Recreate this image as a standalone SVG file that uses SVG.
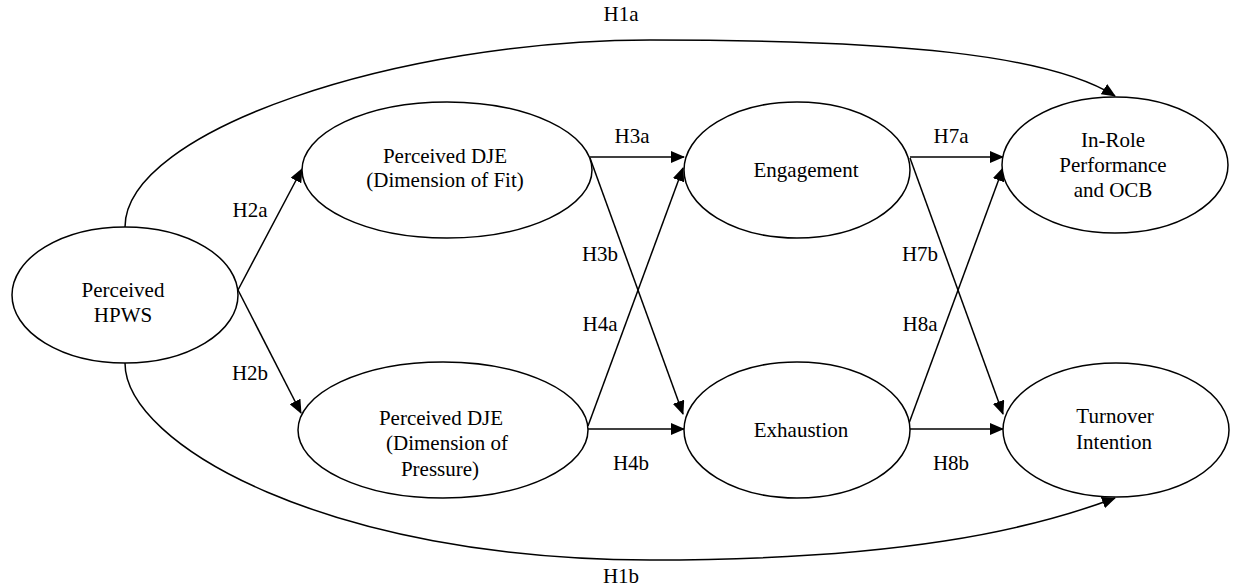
<svg xmlns="http://www.w3.org/2000/svg" width="1238" height="587" viewBox="0 0 1238 587">
<style>
  .node ellipse { fill: #ffffff; stroke: #000000; stroke-width: 1.5; }
  text { font-family: 'Liberation Serif', 'DejaVu Serif', serif; font-size: 21px; fill: #000000; text-anchor: middle; }
  .conn path, .conn line { fill: none; stroke: #000000; stroke-width: 1.5; marker-end: url(#arrow); }
</style>
<defs>
  <marker id="arrow" markerUnits="userSpaceOnUse" markerWidth="14" markerHeight="12" viewBox="0 0 14 12" refX="13" refY="6" orient="auto">
    <path d="M0,0 L14,6 L0,12 Z" fill="#000000"/>
  </marker>
</defs>
<rect width="1238" height="587" fill="#ffffff"/>
<g class="conn" id="connectors">
  <path d="M125,227 C125,130 400,40 650,40 C900,40 1050,55 1115,96"/>
  <path d="M125,363 C125,445 330,560 650,560 C900,560 1030,530 1115,498"/>
  <line x1="238" y1="290" x2="302" y2="169"/>
  <line x1="238" y1="290" x2="301" y2="413"/>
  <line x1="590" y1="157" x2="684" y2="157"/>
  <line x1="590" y1="158" x2="683" y2="414"/>
  <line x1="588" y1="426" x2="683" y2="168"/>
  <line x1="588" y1="429" x2="684" y2="429"/>
  <line x1="910" y1="157" x2="1003" y2="157"/>
  <line x1="910" y1="158" x2="1003" y2="414"/>
  <line x1="908" y1="426" x2="1003" y2="168"/>
  <line x1="908" y1="429" x2="1003" y2="429"/>
</g>
<g id="labels">
  <text x="621" y="21" font-family="Liberation Serif, serif">H1a</text>
  <text x="621" y="583" font-family="Liberation Serif, serif">H1b</text>
  <text x="250" y="217" font-family="Liberation Serif, serif">H2a</text>
  <text x="250" y="380" font-family="Liberation Serif, serif">H2b</text>
  <text x="632" y="143" font-family="Liberation Serif, serif">H3a</text>
  <text x="600" y="261" font-family="Liberation Serif, serif">H3b</text>
  <text x="600" y="331" font-family="Liberation Serif, serif">H4a</text>
  <text x="631" y="470" font-family="Liberation Serif, serif">H4b</text>
  <text x="951" y="143" font-family="Liberation Serif, serif">H7a</text>
  <text x="920" y="261" font-family="Liberation Serif, serif">H7b</text>
  <text x="920" y="331" font-family="Liberation Serif, serif">H8a</text>
  <text x="951" y="470" font-family="Liberation Serif, serif">H8b</text>
</g>
<g class="node" id="hpws">
  <ellipse cx="125" cy="295" rx="113" ry="68"/>
  <text x="123" y="297">Perceived</text>
  <text x="123" y="322">HPWS</text>
</g>
<g class="node" id="dje-fit">
  <ellipse cx="447" cy="170" rx="145" ry="68"/>
  <text x="445" y="163">Perceived DJE</text>
  <text x="445" y="187">(Dimension of Fit)</text>
</g>
<g class="node" id="dje-pressure">
  <ellipse cx="443" cy="430" rx="145" ry="68"/>
  <text x="441" y="425">Perceived DJE</text>
  <text x="447" y="450">(Dimension of</text>
  <text x="440" y="476">Pressure)</text>
</g>
<g class="node" id="engagement">
  <ellipse cx="797" cy="170" rx="113" ry="68"/>
  <text x="806" y="177">Engagement</text>
</g>
<g class="node" id="exhaustion">
  <ellipse cx="797" cy="430" rx="113" ry="68"/>
  <text x="801" y="437">Exhaustion</text>
</g>
<g class="node" id="performance">
  <ellipse cx="1115" cy="165" rx="113" ry="68"/>
  <text x="1113" y="147">In-Role</text>
  <text x="1113" y="172">Performance</text>
  <text x="1113" y="197">and  OCB</text>
</g>
<g class="node" id="turnover">
  <ellipse cx="1116" cy="430" rx="113" ry="67"/>
  <text x="1115" y="423">Turnover</text>
  <text x="1114" y="449">Intention</text>
</g>
</svg>
